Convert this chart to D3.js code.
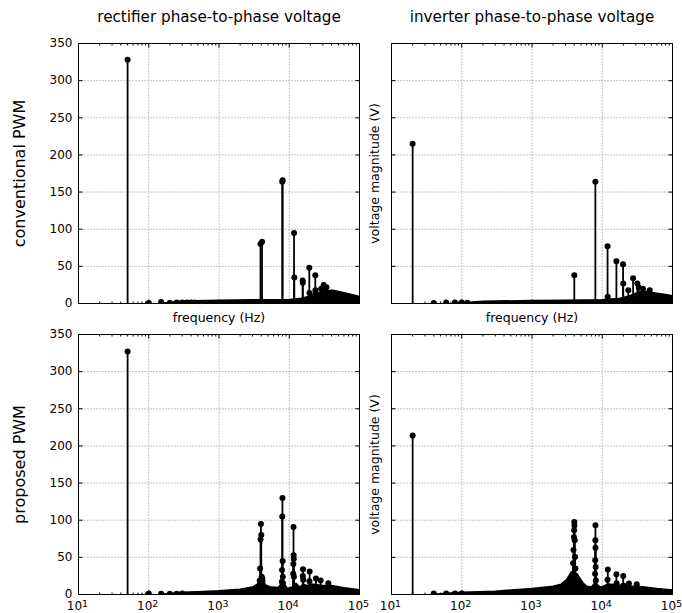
<!DOCTYPE html>
<html>
<head>
<meta charset="utf-8">
<script src="https://cdn.jsdelivr.net/npm/d3@7"></script>
<style>
  body { margin: 0; background: #fff; }
  text { font-family: "DejaVu Sans", sans-serif; fill: #000; }
</style>
</head>
<body>
<div id="chart"></div>
<script>
// PART 1: DATA (frequency in Hz, magnitude in V)
//---------------------------------------------------------------------
// rectifier, conventional PWM (harmonics of 50 Hz)
const rectConvFreq = [50, 100, 150, 200, 250, 300, 350, 400, 450,
  3900, 4100, 7950, 8050, 11700, 11800, 15500, 15600, 19300, 19400,
  23400, 23500, 23600, 28400, 30900, 33800];
const rectConvMag = [328, 0.8, 2, 1, 1.5, 1.2, 1.4, 1.5, 1.3,
  80, 83, 164, 166, 95, 35, 31, 28, 48, 14,
  12, 38, 18, 20, 25, 22];
const rectConvFloorFreq = [150, 300, 1000, 3000, 10000, 15000, 20000, 25000, 30000, 42000, 63000, 100000];
const rectConvFloorMag = [0.5, 3.5, 4.5, 5, 5.5, 7, 10, 14, 17, 18, 14, 9.5];

// inverter, conventional PWM (harmonics of 20 Hz)
const invConvFreq = [20, 40, 60, 80, 100, 120,
  4000, 7980, 11900, 11960, 15900, 15960, 19800, 19900,
  23500, 27500, 31600, 33000, 38000, 47400];
const invConvMag = [215, 0.8, 1.5, 1.2, 1.5, 1,
  38, 164, 77, 9, 57, 2, 53, 27,
  18, 34, 27, 21.6, 20, 18];
const invConvFloorFreq = [80, 200, 1000, 3000, 10000, 18000, 24000, 30000, 38000, 57000, 79000, 100000];
const invConvFloorMag = [0.5, 3, 4, 4.5, 5, 7, 10, 14, 17, 14, 12, 10.5];

// rectifier, proposed PWM
const rectPropFreq = [50, 100, 150, 200, 250, 300,
  3800, 3850, 3900, 3950, 4000, 4050, 4100, 4150,
  7850, 7900, 7950, 8000, 8050, 8100, 8150,
  11400, 11450, 11500, 11550, 11600, 11650,
  15600, 15700, 15800, 19400, 19500, 24000, 28000, 36000];
const rectPropMag = [327, 1.5, 1, 1, 1, 1.2,
  19, 35, 74, 95, 80, 24, 22, 19,
  17, 33, 105, 130, 45, 24, 15,
  28, 41, 91, 53, 48, 24,
  25, 34, 20, 18, 31, 21.5, 19, 15];
const rectPropFloorFreq = [150, 300, 600, 1000, 2000, 3000, 3500, 3800, 4200, 4600, 5500, 7000,
  7700, 8300, 9500, 11000, 12500, 14000, 16000, 18000, 21000, 25000, 30000, 40000, 60000, 100000];
const rectPropFloorMag = [0.5, 3, 4, 5, 7, 10, 14, 20, 20, 13, 10, 9.5,
  15, 15, 8, 10, 15, 10, 14, 12, 14, 13, 12, 12, 9, 6.5];

// inverter, proposed PWM
const invPropFreq = [20, 40, 60, 80, 100,
  3600, 3700, 3750, 3800, 3850, 3900, 3950, 3980, 4000, 4020, 4050, 4100, 4150, 4200, 4300,
  7900, 7940, 7980, 8000, 8020, 8060, 8100,
  11900, 12000, 15900, 16000, 19900, 20000, 24000, 31000];
const invPropMag = [214, 1.5, 1.2, 1.5, 1.2,
  12, 15, 21.5, 28, 42, 60, 77.5, 86.5, 97.7, 93, 73, 50.6, 35, 25, 18,
  28, 46, 73, 93.3, 62.8, 37, 19,
  20, 33.6, 27.3, 15, 25, 12, 14.8, 13.9];
const invPropFloorFreq = [40, 100, 300, 1000, 2000, 2600, 3100, 3400, 3700, 4000, 4400, 4800, 5400, 6000, 7000,
  7600, 8000, 8500, 9500, 12000, 16000, 20000, 24000, 31000, 40000, 60000, 100000];
const invPropFloorMag = [0.5, 3, 4.5, 8, 11, 14, 20, 26, 30, 30, 27, 22, 15, 11, 10,
  14, 19, 13, 10, 14, 13, 12, 11, 11, 10, 8, 6];

// axis ticks and labels
const yTicks = [0, 50, 100, 150, 200, 250, 300, 350];
const xDecades = [10, 100, 1000, 10000, 100000];
const xExponents = ["1", "2", "3", "4", "5"];
const colTitles = ["rectifier phase-to-phase voltage", "inverter phase-to-phase voltage"];
const rowTitles = ["conventional PWM", "proposed PWM"];

// PART 2: FIGURE LAYOUT
//---------------------------------------------------------------------
const svgWidth = 682;
const svgHeight = 613;
const plotWidth = 281;
const plotHeight = 260;
const colLeft = [78.5, 391.5];
const rowTop = [43.5, 334.5];

const svg = d3.select("#chart")
  .append("svg")
  .attr("width", svgWidth)
  .attr("height", svgHeight);

const panels = [
  {row: 0, col: 0, freq: rectConvFreq, mag: rectConvMag, floorFreq: rectConvFloorFreq, floorMag: rectConvFloorMag},
  {row: 0, col: 1, freq: invConvFreq, mag: invConvMag, floorFreq: invConvFloorFreq, floorMag: invConvFloorMag},
  {row: 1, col: 0, freq: rectPropFreq, mag: rectPropMag, floorFreq: rectPropFloorFreq, floorMag: rectPropFloorMag},
  {row: 1, col: 1, freq: invPropFreq, mag: invPropMag, floorFreq: invPropFloorFreq, floorMag: invPropFloorMag}
];

// minor log ticks 2..9 per decade
const xMinor = [];
xDecades.slice(0, -1).forEach(d => { for (let k = 2; k < 10; k++) xMinor.push(d * k); });

function drawPanel(p) {
  const g = svg.append("g")
    .attr("transform", `translate(${colLeft[p.col]},${rowTop[p.row]})`);

  const xScale = d3.scaleLog().domain([10, 100000]).range([0, plotWidth]);
  const yScale = d3.scaleLinear().domain([0, 350]).range([plotHeight, 0]);

  const clipId = `clip${p.row}${p.col}`;
  g.append("clipPath").attr("id", clipId)
    .append("rect").attr("width", plotWidth).attr("height", plotHeight);

  // 2.1 dotted grid
  const grid = g.append("g")
    .attr("stroke", "#888")
    .attr("stroke-width", 1)
    .attr("stroke-dasharray", "1,2");
  grid.selectAll("line.gy").data(yTicks.slice(1, -1)).enter()
    .append("line").attr("class", "gy")
    .attr("x1", 0).attr("x2", plotWidth)
    .attr("y1", d => yScale(d)).attr("y2", d => yScale(d));
  grid.selectAll("line.gx").data(xDecades.slice(1, -1)).enter()
    .append("line").attr("class", "gx")
    .attr("x1", d => xScale(d)).attr("x2", d => xScale(d))
    .attr("y1", 0).attr("y2", plotHeight);

  const marks = g.append("g").attr("clip-path", `url(#${clipId})`);

  // 2.2 dense harmonic floor
  const floor = d3.zip(p.floorFreq, p.floorMag);
  marks.append("path")
    .datum(floor)
    .attr("d", d3.area()
      .x(d => xScale(d[0]))
      .y0(plotHeight)
      .y1(d => yScale(d[1])))
    .attr("fill", "#000")
    .attr("stroke", "#000")
    .attr("stroke-width", 1.5)
    .attr("stroke-linejoin", "round");

  // 2.3 stems and markers
  const stems = d3.zip(p.freq, p.mag);
  marks.selectAll("line.stem").data(stems).enter()
    .append("line").attr("class", "stem")
    .attr("x1", d => xScale(d[0])).attr("x2", d => xScale(d[0]))
    .attr("y1", yScale(0)).attr("y2", d => yScale(d[1]))
    .attr("stroke", "#000")
    .attr("stroke-width", 1.8);
  marks.selectAll("circle").data(stems).enter()
    .append("circle")
    .attr("cx", d => xScale(d[0]))
    .attr("cy", d => yScale(d[1]))
    .attr("r", 3)
    .attr("fill", "#000");

  // 2.4 ticks inside on all four sides
  const axes = [
    {axis: d3.axisBottom(xScale).tickValues(xDecades).tickSize(-4), t: `translate(0,${plotHeight})`},
    {axis: d3.axisBottom(xScale).tickValues(xMinor).tickSize(-2), t: `translate(0,${plotHeight})`},
    {axis: d3.axisTop(xScale).tickValues(xDecades).tickSize(-4), t: "translate(0,0)"},
    {axis: d3.axisTop(xScale).tickValues(xMinor).tickSize(-2), t: "translate(0,0)"},
    {axis: d3.axisRight(yScale).tickValues(yTicks).tickSize(-4), t: `translate(${plotWidth},0)`},
    {axis: d3.axisLeft(yScale).tickValues(yTicks).tickSize(-4).tickPadding(6), t: "translate(0,0)", labels: p.col === 0}
  ];
  axes.forEach(a => {
    a.axis.offset(0).tickSizeOuter(0);
    if (!a.labels) a.axis.tickFormat("");
    const ag = g.append("g").attr("transform", a.t).call(a.axis);
    ag.select(".domain").remove();
    ag.selectAll("line").attr("stroke", "#000");
    ag.selectAll("text").attr("font-size", "12px").attr("font-family", "DejaVu Sans, sans-serif");
  });

  // 2.5 frame
  g.append("rect")
    .attr("width", plotWidth).attr("height", plotHeight)
    .attr("fill", "none").attr("stroke", "#000").attr("stroke-width", 1);

  // 2.6 x tick labels only on the bottom row
  if (p.row === 1) {
    const lbl = g.append("g").selectAll("text").data(xDecades).enter()
      .append("text")
      .attr("x", d => xScale(d) - 1)
      .attr("y", plotHeight + 15.5)
      .attr("text-anchor", "middle")
      .attr("font-size", "12px");
    lbl.append("tspan").text("10");
    lbl.append("tspan").attr("dy", -3.5).attr("font-size", "9.5px").text((d, i) => xExponents[i]);
  } else {
    g.append("text")
      .attr("x", plotWidth / 2)
      .attr("y", plotHeight + 18)
      .attr("text-anchor", "middle")
      .attr("font-size", "12.5px")
      .text("frequency (Hz)");
  }

  // 2.7 y label on the right column
  if (p.col === 1) {
    g.append("text")
      .attr("transform", `translate(-13,${plotHeight / 2}) rotate(-90)`)
      .attr("text-anchor", "middle")
      .attr("font-size", "12.5px")
      .text("voltage magnitude (V)");
  }
}

panels.forEach(drawPanel);

// PART 3: COLUMN AND ROW TITLES
//---------------------------------------------------------------------
colTitles.forEach((t, i) => {
  svg.append("text")
    .attr("x", colLeft[i] + plotWidth / 2)
    .attr("y", 22)
    .attr("text-anchor", "middle")
    .attr("font-size", "15.2px")
    .text(t);
});

rowTitles.forEach((t, i) => {
  svg.append("text")
    .attr("transform", `translate(25,${rowTop[i] + plotHeight / 2}) rotate(-90)`)
    .attr("text-anchor", "middle")
    .attr("font-size", "16px")
    .text(t);
});
</script>
</body>
</html>
